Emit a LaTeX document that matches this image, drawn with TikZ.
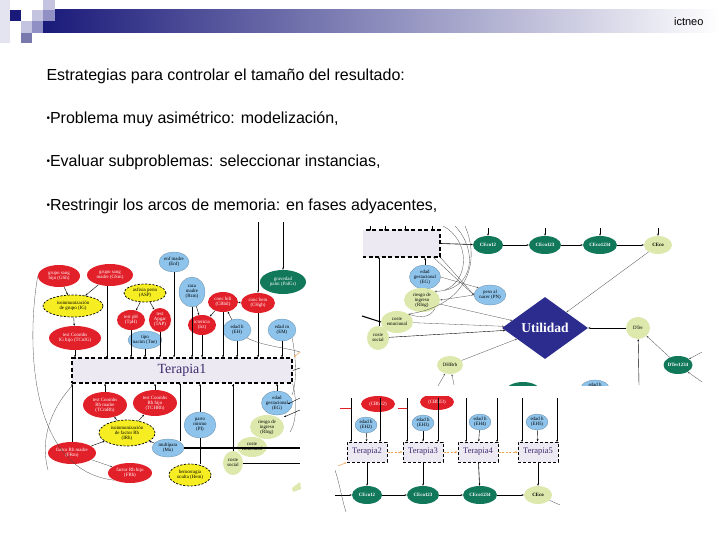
\documentclass[tikz,border=0pt]{standalone}
\usepackage{fontspec}
\setmainfont{Liberation Sans}
\newfontfamily\dg{Liberation Serif}
\usetikzlibrary{shapes.geometric,arrows.meta}
\definecolor{navy}{HTML}{1A1A7A}
\definecolor{sqA}{HTML}{E4E4F0}
\definecolor{sqB}{HTML}{C4C4E0}
\definecolor{sqC}{HTML}{9090C4}
\definecolor{sqD}{HTML}{7878AC}
\definecolor{dred}{HTML}{E2202A}
\definecolor{lblue}{HTML}{8EC4EC}
\definecolor{dyel}{HTML}{F6EE22}
\definecolor{dgreen}{HTML}{12785A}
\definecolor{pgreen}{HTML}{DCE8AC}
\definecolor{lav}{HTML}{EDE9F3}
\definecolor{tpurp}{HTML}{3A2C6C}
\definecolor{utilb}{HTML}{2C2C8E}
\definecolor{orng}{HTML}{F0A050}
\tikzset{
 sz/.style 2 args={minimum width=#1, minimum height=#2},
 nd/.style={ellipse, inner sep=0pt, align=center, font=\dg\fontsize{4.9}{5}\selectfont},
 rd/.style={nd, fill=dred, text=white},
 bl/.style={nd, fill=lblue, draw=lblue!60!black, line width=0.2pt},
 ye/.style={nd, fill=dyel, draw=black, line width=0.7pt, dash pattern=on 2.2pt off 1.5pt},
 gr/.style={nd, fill=dgreen, text=white, font=\dg\bfseries\fontsize{4.9}{5}\selectfont},
 pg/.style={nd, fill=pgreen},
 tbox/.style={rectangle, inner sep=0pt, fill=lav, draw=black, line width=1.3pt, dash pattern=on 4pt off 2.5pt, text=tpurp},
 ar/.style={-{Stealth[length=2.2pt,width=1.8pt]}, line width=0.4pt},
 ln/.style={line width=0.4pt},
 thk/.style={line width=1.1pt},
 cv/.style={line width=0.3pt, black!70},
 cva/.style={cv, -{Stealth[length=2pt,width=1.6pt]}},
 oar/.style={-{Stealth[length=2.4pt,width=2pt]}, line width=0.6pt, orng, dash pattern=on 2pt off 1.5pt},
 bul/.style={anchor=base west, font=\fontsize{16}{19}\selectfont},
}
\newcommand{\bult}{\raisebox{1.5pt}{\fontsize{10}{10}\selectfont\textbullet}}
\begin{document}
\begin{tikzpicture}[x=1pt,y=-1pt]
\useasboundingbox (0,0) rectangle (720,540);
% ---------------- header
\shade[left color=navy, right color=white] (43,10) rectangle (720,33);
\fill[sqA] (0,0) rectangle (10,43);
\fill[navy] (10,10) rectangle (21,21);
\fill[sqB] (21,21) rectangle (32,33);
\fill[sqD] (21,33) rectangle (32,43);
\fill[sqB] (32,10) rectangle (43,21);
\fill[sqC] (32,21) rectangle (43,33);
\fill[sqB] (43,0) rectangle (55,10);
\fill[sqC] (43,10) rectangle (55,21);
\node[anchor=east, font=\fontsize{11}{12}\selectfont] (brand) at (707,22) {ictneo};
% ---------------- text
\node[bul] (l0) at (43,80.5) {Estrategias para controlar el tamaño del resultado:};
\node[bul] (l1) at (43,123.5) {\bult Problema muy asimétrico: modelización,};
\node[bul] (l2) at (43,166.5) {\bult Evaluar subproblemas: seleccionar instancias,};
\node[bul] (l3) at (43,210.5) {\bult Restringir los arcos de memoria: en fases adyacentes,};

% ================= LEFT DIAGRAM
\node[bl, sz={30}{20}] (enf) at (174,262) {enf madre\\(Enf)};
\node[rd, sz={42}{22}] (gsh) at (59,276) {grupo sang\\hijo (GSh)};
\node[rd, sz={46}{22}] (gsm) at (110,275) {grupo sang\\madre (GSm)};
\node[ye, sz={60}{22}] (ig) at (73,306) {isoinmunización\\de grupo (IG)};
\node[rd, sz={52}{24}] (tcig) at (75,338) {test Coombs\\IG hijo (TCnIG)};
\node[ye, sz={42}{18}] (asp) at (145,293) {asfixia perin\\(ASP)};
\node[rd, sz={28}{20}] (tph) at (131,320) {test pH\\(TpH)};
\node[rd, sz={22}{24}] (tap) at (160,320) {test\\Apgar\\(TAP)};
\node[bl, sz={32}{18}] (tne) at (145,340) {tipo\\nacim (Tne)};
\node[bl, sz={26}{30}] (rzm) at (192,292) {raza\\madre\\(Rzm)};
\node[rd, sz={30}{20}] (cbil) at (223,302) {conc bili\\(CBbil)};
\node[rd, sz={34}{20}] (chgb) at (258,303) {conc hem\\(CHgb)};
\node[gr, sz={46}{24}, font=\dg\fontsize{5}{5.2}\selectfont] (pal) at (283,282) {gravedad\\paloi (PalGr)};
\node[rd, sz={28}{20}] (ict) at (202,325) {ictericia\\(Ict)};
\node[bl, sz={28}{22}] (eh) at (237,330) {edad h\\(EH)};
\node[bl, sz={28}{22}] (em) at (282,330) {edad m\\(EM)};
\node[tbox, sz={220}{25}, font=\dg\fontsize{14}{15}\selectfont] (t1) at (182,370.5) {Terapia1};
\node[rd, sz={44}{26}] (tcmrh) at (105,405) {test Coombs\\Rh madre\\(TCmRh)};
\node[rd, sz={44}{26}] (tchrh) at (155,403) {test Coombs\\Rh hijo\\(TCHRh)};
\node[ye, sz={56}{26}] (irh) at (127,433) {isoinmunización\\de factor Rh\\(IRh)};
\node[bl, sz={32}{26}] (pi) at (200,425) {parto\\mismo\\(PI)};
\node[rd, sz={48}{22}] (frm) at (72,453) {factor Rh madre\\(FRm)};
\node[rd, sz={44}{20}] (frh) at (130,473) {factor Rh hijo\\(FRh)};
\node[bl, sz={32}{18}] (mu) at (168,448) {multípara\\(Mu)};
\node[ye, sz={42}{22}] (hem) at (190,475) {hemorragia\\oculta (Hem)};
\node[bl, sz={30}{24}] (eg) at (277,403) {edad\\gestacional\\(EG)};
\node[pg, sz={34}{24}] (ring) at (267,427) {riesgo de\\ingreso\\(RIng)};
\node[pg, sz={30}{20}] (cem) at (252,447) {coste\\emocional};
\node[pg, sz={20}{24}] (cso) at (233,463) {coste\\social};
\coordinate (ltop1) at (258,222);
\coordinate (ltop2) at (283,222);
\coordinate (rgt1) at (300,448);
\coordinate (rgt2) at (300,463);
\coordinate (rgt3) at (300,368);
% edges left
\draw[ar] (gsh) -- (ig);
\draw[ar] (gsm) -- (ig);
\draw[ar] (ig) -- (tcig);
\draw[ar] (asp) -- (tph);
\draw[ar] (asp) -- (tap);
\draw[ar] (rzm) -- (ict);
\draw[ar] (cbil) -- (ict);
\draw[ar] (chgb) -- (cbil);
\draw[ar] (eh) -- (cbil);
\draw[ar] (ltop1) -- (chgb.north);
\draw[ar] (ltop2) -- (pal.north);
\foreach \n in {tcig,tph,tne,ict,cbil,eh,chgb,em}
  \draw[ar] (\n.south) -- (\n.south |- t1.north);
\draw[ar] (gsm.south -| 107,0) -- (107,358);
\draw[ar] (tap.south) -- (tap.south |- t1.north);
\draw[ar] (enf.south) -- (enf.south |- t1.north);
\draw[ar] (rzm.south) -- (rzm.south |- t1.north);
\draw[ar] (frm.north) -- (frm.north |- t1.south);
\draw[ar] (tcmrh.north) -- (tcmrh.north |- t1.south);
\draw[ar] (tchrh.north) -- (tchrh.north |- t1.south);
\draw[ar] (180,441) -- (180,383);
\draw[ln] (hem.north -| pi.south) -- (pi.south);
\draw[ar] (pi.north) -- (pi.north |- t1.south);
\draw[ar] (eg.north) -- (eg.north |- t1.south);
\draw[ln] (cso.north) -- (cso.north |- t1.south);
\fill (cso.north |- t1.south) ++(0,2) circle (1.1pt);
\fill (233,448) circle (1.3pt);
\draw[thk] (mu.east) -- (rgt1);
\draw[ln] (cso.east) -- (rgt2);
\draw[ln] (t1.east) -- (rgt3);
\draw[ar] (irh) -- (tcmrh);
\draw[ar] (irh) -- (tchrh);
\draw[ar] (frm) -- (irh);
\draw[ar] (mu) -- (irh);
\draw[cva] (frm) -- (frh);
\draw[cv] (gsh.west) .. controls (28,330) and (24,470) .. (frh.south west);
\draw[cv] (72,386) .. controls (50,410) and (40,440) .. (48,470);
\draw[cv] (eh.south east) .. controls (262,346) and (288,348) .. (300,352);
\draw[cv] (em.south east) .. controls (295,350) and (298,380) .. (292,395);
\draw[cv] (t1.south east) .. controls (296,395) and (298,420) .. (290,432);
\draw[-{Stealth[length=2.4pt]}, orng, line width=0.5pt] (300,352) -- (294,357);
\draw[ar] (300,398) -- (288,404);
\draw[ar] (300,410) -- (284,417);
\fill[pgreen] (292,488) -- (300,482) -- (301,489) -- (293,492) -- cycle;

% ================= RIGHT DIAGRAM
\begin{scope}
\clip (363,226) rectangle (700,385);
\node[tbox, sz={78}{27}] (box0) at (401,243.5) {};
\node[gr, sz={36}{20}] (pgr) at (523,392) {};
\node[bl, sz={28}{16}] (ehr) at (595,388) {edad h\\(EH)};
\end{scope}
\node[gr, sz={30}{18}] (ce12) at (488,245) {CEco12};
\node[gr, sz={32}{18}] (ce123) at (545,245) {CEco123};
\node[gr, sz={34}{18}] (ce1234) at (600,245) {CEco1234};
\node[pg, sz={28}{18}, font=\dg\bfseries\fontsize{4.9}{5}\selectfont] (ceco) at (658,245) {CEco};
\node[bl, sz={30}{24}] (eg2) at (425,277) {edad\\gestacional\\(EG)};
\node[bl, sz={32}{20}] (pn) at (490,295) {peso al\\nacer (PN)};
\node[pg, sz={36}{24}] (ring2) at (422,300) {riesgo de\\ingreso\\(RIng)};
\node[diamond, fill=utilb, inner sep=0pt, minimum width=86, minimum height=62, text=white, font=\dg\bfseries\fontsize{13.5}{14}\selectfont] (util) at (545,328) {Utilidad};
\node[pg, sz={24}{22}] (dter) at (638,328) {DTer};
\node[pg, sz={32}{22}] (cem2) at (397,322) {coste\\emocional};
\node[pg, sz={22}{24}] (cso2) at (378,338) {coste\\social};
\node[pg, sz={26}{18}] (dhb) at (450,365) {DHBrb};
\node[gr, sz={28}{18}] (dt1234) at (678,365) {DTer1234};
\coordinate (rc1) at (362,316);
\coordinate (rc2) at (639,385);
\coordinate (rc3) at (438,386);
\coordinate (rc4) at (454,385);
\coordinate (rc5) at (702,352);
\coordinate (rc6) at (702,382);
\draw[ar, line width=0.6pt] (box0.east) -- (ce12);
\draw[ar, line width=0.6pt] (ce12) -- (ce123);
\draw[ar, line width=0.6pt] (ce123) -- (ce1234);
\draw[ar, line width=0.6pt] (ce1234) -- (ceco);
\foreach \n in {ce12,ce123,ce1234,ceco}
  \draw[ar] (\n.north |- 0,228) -- (\n.north);
\foreach \x in {370,385,405,432}
  \draw[ar] (\x,226) -- (\x,231);
\draw[ar] (eg2.north) -- (eg2.north |- box0.south);
\draw[ar] (cso2.north -| 379,0) -- (379,257);
\draw[thk] (rc1) -- (cem2.west);
\draw[cva] (ceco) -- (util);
\draw[cva] (ring2) -- (util);
\draw[cva] (cem2) -- (util);
\draw[ar] (cso2) -- (util);
\draw[cva] (dhb) -- (util);
\draw[ar] (dter) -- (util);
\draw[cva] (dt1234) -- (dter);
\draw[ar] (rc2) -- (dter);
\draw[cva] (rc3) -- (dhb);
\draw[cva] (rc4) -- (dhb);
\draw[cva] (rc5) -- (dt1234);
\draw[cva] (rc6) -- (dt1234);
\draw[cva] (box0.south east) -- (pn.west);
\draw[cva] (eg2.east) -- (pn.north west);
\draw[cva] (433,257) -- (pn.west);
\draw[cva] (pn.west) -- (ring2.east);
\draw[cv] (443,226) .. controls (470,240) and (470,280) .. (445,290);
\draw[cva] (455,226) .. controls (478,250) and (475,290) .. (ring2.north east);
\draw[cv] (465,226) .. controls (480,260) and (470,305) .. (cem2.north east);
\draw[cva] (ring2.south east) .. controls (430,318) and (420,318) .. (cem2.north east);

% ================= BOTTOM DIAGRAM
\begin{scope}
\clip (335,396) rectangle (562,515);
\node[rd, sz={34}{16}] (cb2) at (378,404) {(CBbil2)};
\node[rd, sz={34}{16}] (cb3) at (437,402) {(CBbil3)};
\end{scope}
\foreach \i/\x in {2/367,3/423,4/478,5/538}{
  \node[tbox, sz={40}{20}, line width=1pt, dash pattern=on 3pt off 2pt, font=\dg\fontsize{8.5}{9}\selectfont] (t\i) at (\x,452) {Terapia\i};
}
\node[bl, sz={22}{16}] (eh2) at (366,425) {edad h\\(EH2)};
\node[bl, sz={22}{16}] (eh3) at (423,423) {edad h\\(EH3)};
\node[bl, sz={22}{16}] (eh4) at (480,422) {edad h\\(EH4)};
\node[bl, sz={22}{16}] (eh5) at (537,422) {edad h\\(EH5)};
\node[gr, sz={30}{18}] (b12) at (367,495) {CEco12};
\node[gr, sz={32}{18}] (b123) at (423,495) {CEco123};
\node[gr, sz={34}{18}] (b1234) at (480,495) {CEco1234};
\node[pg, sz={28}{18}, font=\dg\bfseries\fontsize{4.9}{5}\selectfont] (beco) at (538,495) {CEco};
\coordinate (bl0) at (335,495);
\coordinate (bo0) at (338,466);
\coordinate (bc0) at (560,505);
\draw[oar] (t2) -- (t3);
\draw[oar] (t3) -- (t4);
\draw[oar] (t4) -- (t5);
\draw[-{Stealth[length=2.4pt]}, orng, line width=0.5pt] (bo0) -- (t2.south west);
\foreach \i in {2,3,4,5}{
  \draw[ar, line width=0.6pt] (t\i) -- (b\ifcase\i\or\or 12\or 123\or 1234\or eco\fi);
  \draw[ar] (eh\i) -- (t\i);
}
\draw[ar, line width=0.6pt] (bl0) -- (b12);
\draw[ar, line width=0.6pt] (b12) -- (b123);
\draw[ar, line width=0.6pt] (b123) -- (b1234);
\draw[ar, line width=0.6pt] (b1234) -- (beco);
\draw[cv] (bc0) -- (beco);
\foreach \x in {351,380,407,438,466,497,522,557}
  \draw[ar] (\x,398) -- (\x,442);
\draw[dred, line width=0.6pt] (340,408) -- (351,408);
\draw[dred, line width=0.6pt] (398,408) -- (407,408);
\draw[cv] (335,470) .. controls (340,485) and (342,500) .. (346,512);
\end{tikzpicture}
\end{document}
